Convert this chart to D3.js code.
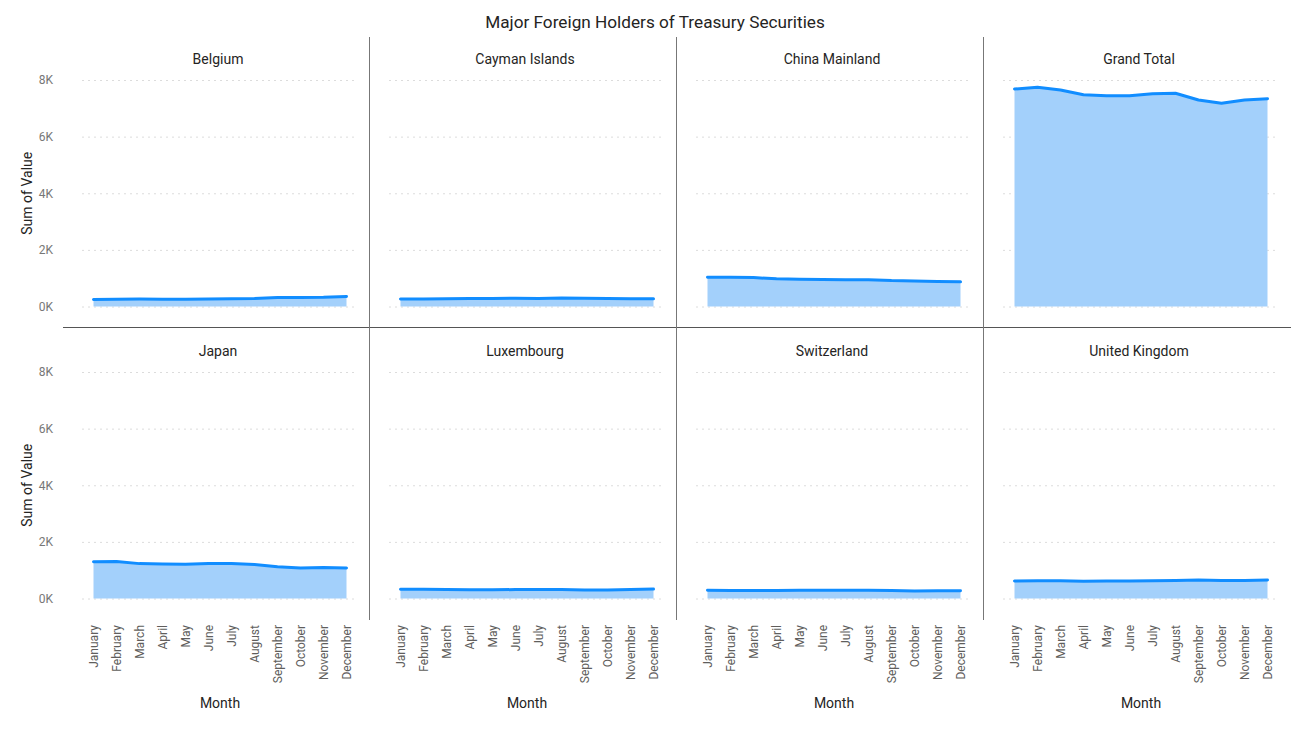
<!DOCTYPE html>
<html>
<head>
<meta charset="utf-8">
<script src="https://cdn.jsdelivr.net/npm/d3@7"></script>
<style>
  html, body { margin: 0; padding: 0; background: #fff; }
  svg { display: block; font-family: Roboto, "Noto Sans", sans-serif; }
</style>
</head>
<body>
<svg id="chart" width="1315" height="735"></svg>
<script>
const months = ["January","February","March","April","May","June","July","August","September","October","November","December"];
const panels = ["Belgium","Cayman Islands","China Mainland","Grand Total","Japan","Luxembourg","Switzerland","United Kingdom"];
const belgium     = [251, 258, 262, 255, 260, 268, 276, 281, 317, 321, 328, 354];
const cayman      = [262, 267, 276, 279, 283, 290, 283, 298, 289, 282, 276, 276];
const china       = [1037, 1030, 1020, 980, 960, 950, 945, 948, 915, 900, 880, 870];
const grandTotal  = [7682, 7742, 7647, 7481, 7445, 7445, 7516, 7530, 7294, 7177, 7294, 7340];
const japan       = [1302, 1308, 1232, 1218, 1212, 1236, 1234, 1198, 1122, 1078, 1092, 1080];
const luxembourg  = [323, 325, 318, 306, 305, 317, 318, 319, 303, 297, 314, 332];
const switzerland = [295, 285, 280, 285, 293, 292, 290, 291, 280, 268, 270, 273];
const uk          = [615, 625, 623, 608, 618, 614, 628, 637, 656, 632, 634, 650];
const yTicks = [0, 2000, 4000, 6000, 8000];
const seriesList = [belgium, cayman, china, grandTotal, japan, luxembourg, switzerland, uk];

const svg = d3.select("#chart");
const lineColor = "#118DFF", fillColor = "#A3D0FB";
const left0 = 63, panelW = 307;
const rows = [
  { top: 37, bottom: 327, y0: 306.5, y8: 80, titleY: 64 },
  { top: 327, bottom: 620, y0: 598.5, y8: 372, titleY: 356 }
];

svg.append("text").attr("x", 655).attr("y", 28).attr("text-anchor", "middle")
  .attr("font-size", 17.2).attr("fill", "#252423").text("Major Foreign Holders of Treasury Securities");

// separators
svg.append("line").attr("x1", left0).attr("x2", left0 + 4 * panelW).attr("y1", 327.5).attr("y2", 327.5)
  .attr("stroke", "#555").attr("stroke-width", 1);
for (let c = 1; c < 4; c++) {
  const x = left0 + c * panelW - 0.5;
  svg.append("line").attr("x1", x).attr("x2", x).attr("y1", rows[0].top).attr("y2", rows[1].bottom)
    .attr("stroke", "#777").attr("stroke-width", 1);
}

panels.forEach((name, i) => {
  const r = Math.floor(i / 4), c = i % 4;
  const row = rows[r];
  const pl = left0 + c * panelW;
  const x = d3.scaleBand().domain(months).range([pl + 19, pl + 295]).padding(0);
  const y = d3.scaleLinear().domain([0, 8000]).range([row.y0, row.y8]);
  const g = svg.append("g");
  const data = months.map((m, k) => ({ m, v: seriesList[i][k] }));

  // gridlines
  g.selectAll("line.grid").data(yTicks).enter().append("line")
    .attr("x1", pl + 19).attr("x2", pl + 295)
    .attr("y1", d => y(d) + 0.5).attr("y2", d => y(d) + 0.5)
    .attr("stroke", "#DCDCDC").attr("stroke-width", 1).attr("stroke-dasharray", "2,4");

  // title
  g.append("text").attr("x", pl + 155).attr("y", row.titleY).attr("text-anchor", "middle")
    .attr("font-size", 14).attr("fill", "#252423").text(name);

  const cx = d => x(d.m) + x.bandwidth() / 2;
  g.append("path").datum(data)
    .attr("d", d3.area().x(cx).y0(y(0)).y1(d => y(d.v)))
    .attr("fill", fillColor);
  g.append("path").datum(data)
    .attr("d", d3.line().x(cx).y(d => y(d.v)))
    .attr("fill", "none").attr("stroke", lineColor).attr("stroke-width", 3)
    .attr("stroke-linejoin", "round").attr("stroke-linecap", "round");

  if (c === 0) {
    const ya = d3.axisLeft(y).tickValues(yTicks).tickSize(0).tickPadding(0)
      .tickFormat(d => (d / 1000) + "K");
    const ag = g.append("g").attr("transform", `translate(${pl - 10},0)`).call(ya);
    ag.select(".domain").remove();
    ag.selectAll("text").attr("font-size", 12).attr("fill", "#777").attr("font-family", "Roboto, sans-serif");
    g.append("text").attr("transform", `translate(32,${(row.y0 + row.y8) / 2}) rotate(-90)`)
      .attr("text-anchor", "middle").attr("font-size", 14).attr("fill", "#252423").text("Sum of Value");
  }
  if (r === 1) {
    const xa = d3.axisBottom(x).tickSize(0).tickPadding(0);
    const ag = g.append("g").attr("transform", `translate(0,${row.bottom + 5})`).call(xa);
    ag.select(".domain").remove();
    ag.selectAll("text").attr("font-size", 12).attr("fill", "#605E5C").attr("font-family", "Roboto, sans-serif")
      .attr("text-anchor", "end").attr("dy", null)
      .attr("transform", "rotate(-90)").attr("x", 0).attr("y", 0).attr("dx", 0).attr("dominant-baseline", "central");
    g.append("text").attr("x", pl + 157).attr("y", 708).attr("text-anchor", "middle")
      .attr("font-size", 14).attr("fill", "#252423").text("Month");
  }
});
</script>
</body>
</html>
